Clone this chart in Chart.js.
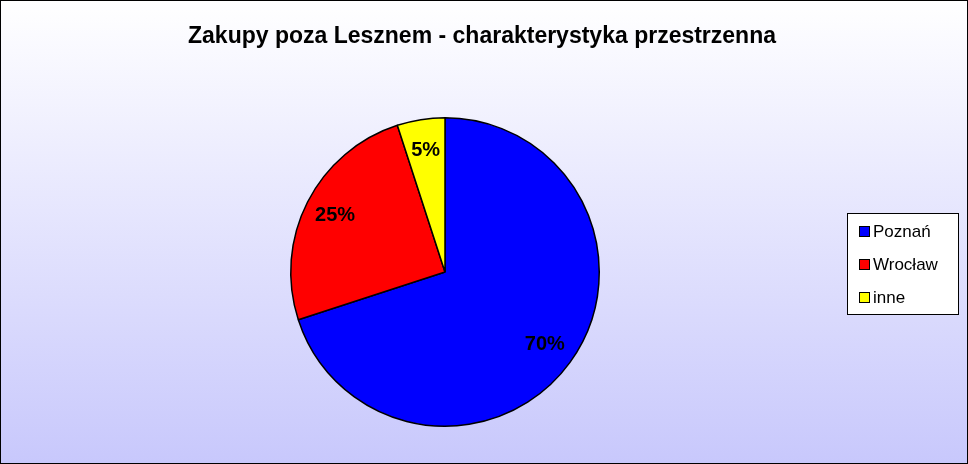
<!DOCTYPE html>
<html>
<head>
<meta charset="utf-8">
<script src="https://cdn.jsdelivr.net/npm/chart.js@4"></script>
<style>
html, body { margin: 0; padding: 0; }
#wrap { width: 966px; height: 462px; border: 1px solid #000; background: linear-gradient(#ffffff, #c8c8fc); }
</style>
</head>
<body>
<div id="wrap"><canvas id="c" width="966" height="462"></canvas></div>
<script>
const labels = ['Poznań', 'Wrocław', 'inne'];
const values = [70, 25, 5];
const colors = ['#0000ff', '#ff0000', '#ffff00'];
const title = 'Zakupy poza Lesznem - charakterystyka przestrzenna';

// Title, percentage labels and boxed legend
const decor = {
    id: 'decor',
    afterDraw(chart) {
        const ctx = chart.ctx;
        ctx.save();
        ctx.fillStyle = '#000';
        ctx.textAlign = 'center';
        ctx.textBaseline = 'middle';
        ctx.font = 'bold 23px "Liberation Sans", Arial, sans-serif';
        ctx.fillText(title, 481, 36);

        const total = values.reduce((a, b) => a + b, 0);
        ctx.font = 'bold 20px "Liberation Sans", Arial, sans-serif';
        chart.getDatasetMeta(0).data.forEach((arc, i) => {
            const mid = (arc.startAngle + arc.endAngle) / 2;
            const r = arc.outerRadius * 0.8;
            ctx.fillText(Math.round(values[i] / total * 100) + '%', arc.x + Math.cos(mid) * r, arc.y + Math.sin(mid) * r);
        });

        // legend
        ctx.fillStyle = '#fff';
        ctx.strokeStyle = '#000';
        ctx.lineWidth = 1;
        ctx.fillRect(846.5, 212.5, 111, 101);
        ctx.strokeRect(846.5, 212.5, 111, 101);
        ctx.font = '17px "Liberation Sans", Arial, sans-serif';
        ctx.textAlign = 'left';
        labels.forEach((l, i) => {
            const y = 231 + i * 33;
            ctx.fillStyle = colors[i];
            ctx.fillRect(858.5, y - 5.5, 10, 10);
            ctx.strokeRect(858.5, y - 5.5, 10, 10);
            ctx.fillStyle = '#000';
            ctx.fillText(l, 872, y);
        });
        ctx.restore();
    }
};

new Chart(document.getElementById('c'), {
    type: 'pie',
    data: {
        labels: labels,
        datasets: [{
            data: values,
            backgroundColor: colors,
            borderColor: '#000',
            borderWidth: 1.5
        }]
    },
    options: {
        responsive: false,
        animation: false,
        layout: { padding: { left: 289, right: 367, top: 116, bottom: 36 } },
        plugins: { legend: { display: false }, tooltip: { enabled: false } }
    },
    plugins: [decor]
});
</script>
</body>
</html>
